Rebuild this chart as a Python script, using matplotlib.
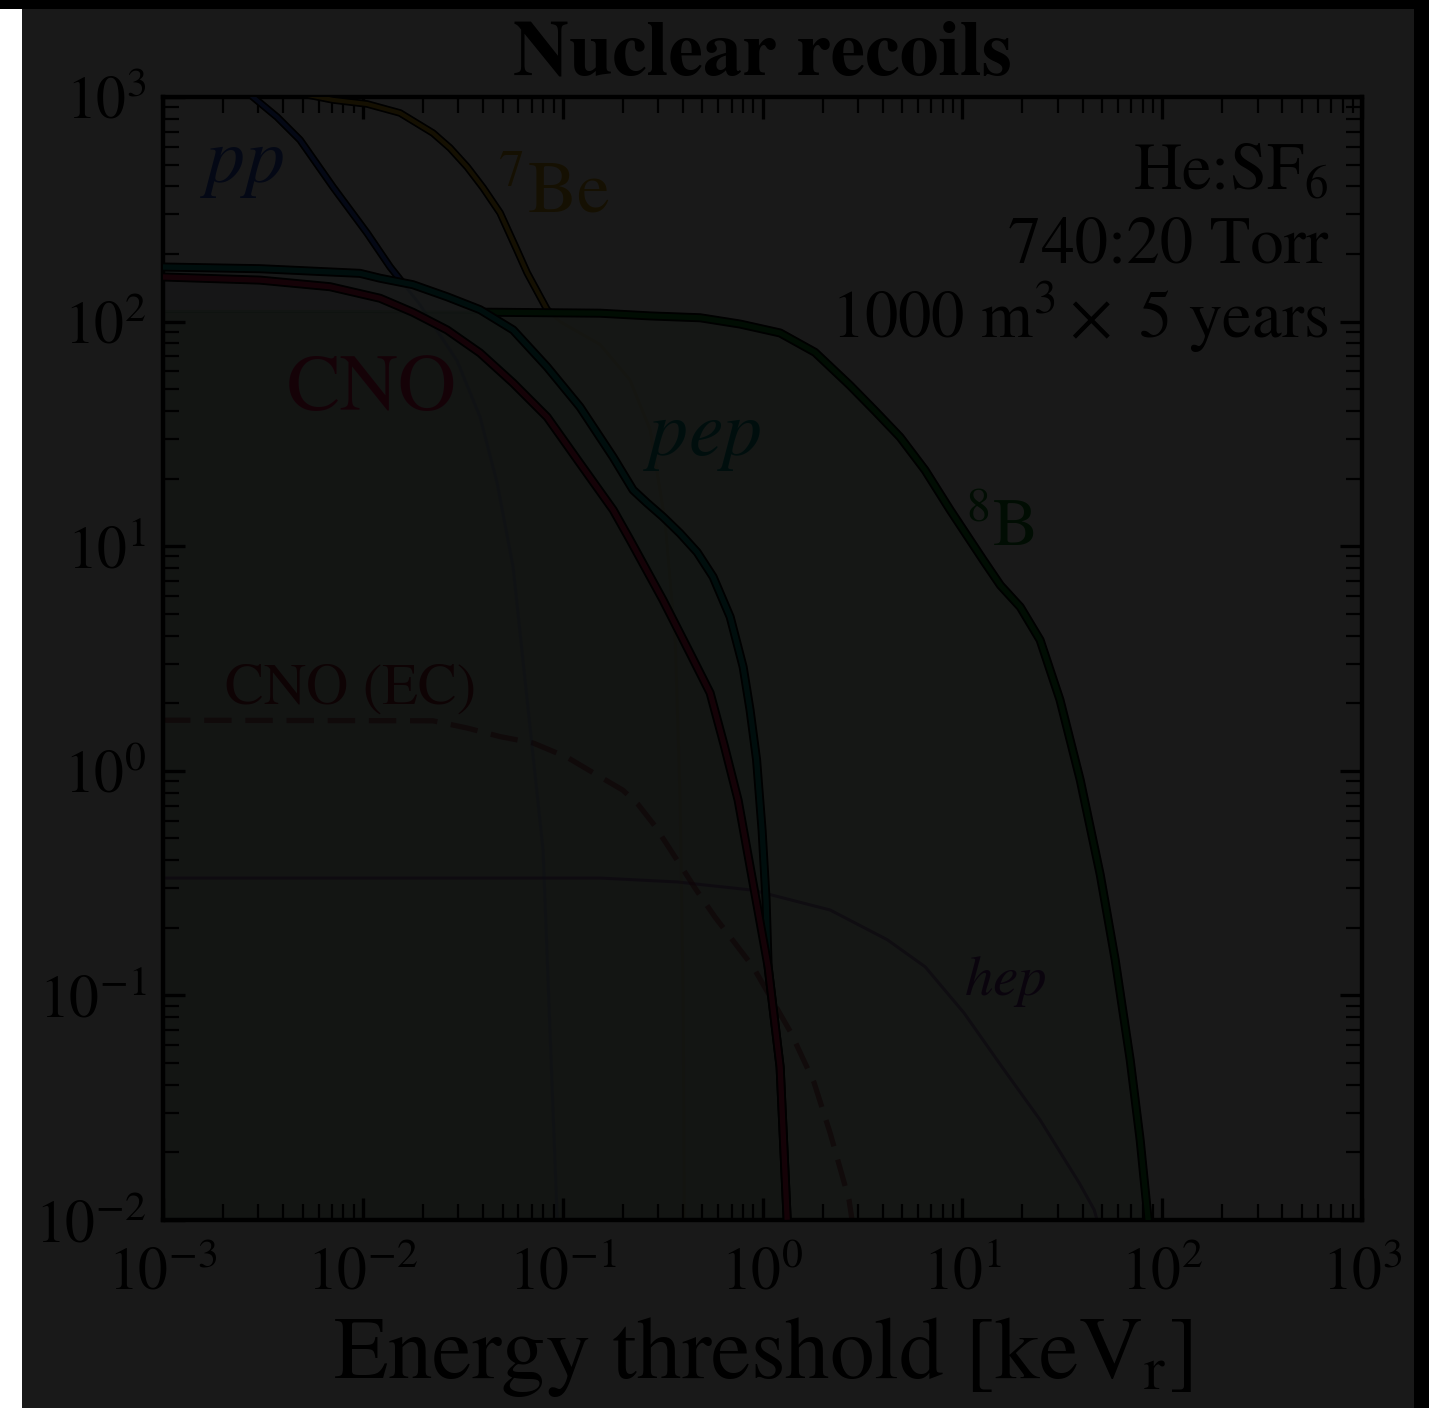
import numpy as np
import matplotlib
matplotlib.use('Agg')
import matplotlib.pyplot as plt
import matplotlib.patheffects as pe
from matplotlib.patches import Rectangle
from matplotlib.path import Path
from matplotlib.ticker import LogLocator, NullFormatter

plt.rcParams['font.family'] = 'STIXGeneral'
plt.rcParams['mathtext.fontset'] = 'stix'

# Recoil energy threshold [keVr] vs. number of events above that threshold
E_pp = np.array([0.001, 0.002, 0.00282, 0.00372, 0.00485, 0.0071, 0.0105, 0.0137, 0.0193,
                 0.0296, 0.0386, 0.047, 0.0565, 0.0664, 0.0798, 0.0938])
R_pp = np.array([2300, 1320, 1000, 815, 644, 397, 248, 175, 119,
                 67, 37.6, 19.1, 8.07, 2.07, 0.443, 0.0103])

E_Be7 = np.array([0.001, 0.003, 0.0071, 0.0105, 0.01535, 0.02244, 0.0273, 0.0333, 0.040,
                  0.0486, 0.0591, 0.0664, 0.0836, 0.097, 0.154, 0.217, 0.274, 0.325,
                  0.366, 0.387, 0.401, 0.406])
R_Be7 = np.array([1350, 1130, 970, 931, 849, 691, 593, 488, 394,
                  305, 208, 165, 113, 100, 79, 55, 33, 13,
                  3.8, 0.74, 0.096, 0.01])

E_B8 = np.array([0.001, 0.01, 0.0486, 0.154, 0.274, 0.488, 0.773, 1.225, 1.83, 2.74,
                 3.66, 4.88, 6.51, 8.69, 12.7, 15.5, 19.5, 24.5, 30.8, 38.9,
                 49.0, 58.2, 69.2, 77.6, 85.1])
R_B8 = np.array([111, 111, 110, 109, 106, 104, 97.5, 89, 73, 52,
                 40, 30.6, 21.8, 14.5, 8.7, 6.7, 5.36, 3.82, 2.07, 0.91,
                 0.344, 0.144, 0.0515, 0.0227, 0.01])

E_pep = np.array([0.001, 0.00306, 0.00968, 0.0122, 0.0178, 0.0264, 0.0386, 0.0565, 0.0836,
                  0.122, 0.179, 0.225, 0.264, 0.318, 0.387, 0.471, 0.566, 0.689, 0.80,
                  0.866, 0.934, 0.995, 1.042, 1.067, 1.225, 1.327])
R_pep = np.array([175, 172, 164, 156, 146, 129, 113, 91.8, 62.8,
                  41.7, 24.9, 17.8, 15.6, 13.5, 11.4, 9.4, 7.3, 4.84, 2.9,
                  1.87, 1.12, 0.545, 0.266, 0.134, 0.048, 0.0103])

E_CNO = np.array([0.001, 0.00306, 0.00685, 0.0122, 0.0178, 0.0264, 0.0386, 0.0565, 0.0836,
                  0.122, 0.179, 0.217, 0.318, 0.434, 0.547, 0.643, 0.755, 0.897, 1.067,
                  1.225, 1.327])
R_CNO = np.array([158, 153, 143, 127, 110, 91.8, 72.5, 53.3, 37.6,
                  23.4, 14.5, 10.7, 5.75, 3.34, 2.22, 1.30, 0.74, 0.316, 0.134,
                  0.048, 0.0103])

E_CNOEC = np.array([0.001, 0.0224, 0.0333, 0.0486, 0.0711, 0.105, 0.154, 0.2, 0.238, 0.29,
                    0.374, 0.46, 0.579, 0.897, 1.39, 1.81, 2.18, 2.71, 2.81])
R_CNOEC = np.array([1.68, 1.67, 1.55, 1.42, 1.33, 1.15, 0.94, 0.82, 0.71, 0.567,
                    0.40, 0.30, 0.223, 0.134, 0.068, 0.041, 0.0244, 0.0123, 0.0099])

E_hep = np.array([0.001, 0.154, 0.374, 0.897, 2.18, 4.21, 6.52, 10.2, 15.8,
                  24.5, 38.5, 45.7, 47.5])
R_hep = np.array([0.333, 0.333, 0.32, 0.294, 0.24, 0.177, 0.134, 0.0835, 0.048,
                  0.0279, 0.0146, 0.0111, 0.0098])

c_pp = '#2a55d4'
c_Be7 = '#d9a516'
c_B8 = '#0a8a1e'
c_pep = '#00948a'
c_CNO = '#d8174f'
c_CNOEC = '#8c1f2a'
c_hep = '#6a2c8a'


def outline(w):
    return [pe.Stroke(linewidth=w, foreground='k'), pe.Normal()]


def region_above(E, R):
    # area above a curve, plus everything right of where the curve stops
    verts = list(zip(E, R)) + [(E[-1], 1e-8), (1e8, 1e-8), (1e8, 1e8), (E[0], 1e8), (E[0], R[0])]
    return Path(verts, closed=True)


fig = plt.figure(figsize=(14.29, 14.08), dpi=100, facecolor='white')
ax = fig.add_axes([0.11407, 0.13352, 0.83905, 0.79759])
ax.set_xscale('log')
ax.set_yscale('log')

# shaded rates
ax.fill_between(E_B8, R_B8, 1e-3, color=c_B8, alpha=0.18, lw=0, zorder=1)
ax.fill_between(E_pep, R_pep, 1e-3, color=c_pep, alpha=0.1, lw=0, zorder=1)
ax.fill_between(E_CNO, R_CNO, 1e-3, color=c_CNO, alpha=0.08, lw=0, zorder=1)

# thin curves sitting underneath
ax.plot(E_hep, R_hep, color=c_hep, lw=2.2, alpha=0.55, zorder=2)
ax.plot(E_CNOEC, R_CNOEC, color=c_CNOEC, lw=3.8, alpha=0.6, dashes=(5.2, 2.6), zorder=2)
for E, R, c in [(E_pp, R_pp, c_pp), (E_Be7, R_Be7, c_Be7), (E_B8, R_B8, c_B8)]:
    ax.plot(E, R, color=c, lw=2.2, alpha=0.18, zorder=2)

# thick outlined curves, only where they stick out above the others
l_pp, = ax.plot(E_pp, R_pp, color=c_pp, lw=3, path_effects=outline(5.5), zorder=3)
l_pp.set_clip_path(region_above(E_pep, R_pep), ax.transData)
l_be, = ax.plot(E_Be7, R_Be7, color=c_Be7, lw=3, path_effects=outline(5.5), zorder=3)
l_be.set_clip_path(region_above(E_B8, R_B8), ax.transData)
l_b8, = ax.plot(E_B8, R_B8, color=c_B8, lw=3.8, path_effects=outline(6.5), zorder=4)
l_b8.set_clip_path(region_above(E_pep, R_pep), ax.transData)
ax.plot(E_pep, R_pep, color=c_pep, lw=3.8, path_effects=outline(6.5), zorder=5)
ax.plot(E_CNO, R_CNO, color=c_CNO, lw=3.8, path_effects=outline(6.5), zorder=6)

# source labels
ax.text(1.53e-3, 419, r'$pp$', color=c_pp, fontsize=56, zorder=7)
ax.text(0.047, 308, r'$^{7}$Be', color=c_Be7, fontsize=53, zorder=7)
ax.text(4.18e-3, 40.4, 'CNO', color=c_CNO, fontsize=58, zorder=7)
ax.text(0.252, 25.5, r'$pep$', color=c_pep, fontsize=56, zorder=7)
ax.text(10.3, 10.1, r'$^{8}$B', color=c_B8, fontsize=49, zorder=7)
ax.text(2.04e-3, 2.0, 'CNO (EC)', color=c_CNOEC, fontsize=42, zorder=7)
ax.text(10.2, 0.1005, r'$hep$', color=c_hep, fontsize=41, zorder=7)

# detector description
ax.text(0.9716, 0.9172, r'He:SF$_6$', transform=ax.transAxes, ha='right', va='baseline', fontsize=48)
ax.text(0.9716, 0.853, '740:20 Torr', transform=ax.transAxes, ha='right', va='baseline', fontsize=48)
ax.text(0.9716, 0.786, r'1000 m$^3\times$ 5 years', transform=ax.transAxes, ha='right', va='baseline', fontsize=48)

ax.set_xlim(1e-3, 1e3)
ax.set_ylim(1e-2, 1e3)
for a in (ax.xaxis, ax.yaxis):
    a.set_major_locator(LogLocator(base=10, numticks=20))
    a.set_minor_locator(LogLocator(base=10, subs=np.arange(2, 10), numticks=20))
    a.set_minor_formatter(NullFormatter())
ax.tick_params(which='both', direction='in', top=True, right=True)
ax.tick_params(which='major', length=16, width=2.4, labelsize=43)
ax.tick_params(which='minor', length=11.5, width=1.6)
ax.tick_params(axis='x', which='major', pad=19)
ax.tick_params(axis='y', which='major', pad=12)
for s in ax.spines.values():
    s.set_linewidth(3.2)

ax.set_title('Nuclear recoils', fontsize=56, fontweight='bold', pad=16)
ax.set_xlabel(r'Energy threshold [keV$_{\rm r}$]', fontsize=64, labelpad=10)

# dimmed page around the figure
fig.add_artist(Rectangle((0.0154, 0), 0.9741, 0.99361, transform=fig.transFigure,
                         facecolor='black', alpha=0.9, lw=0, zorder=50))
fig.add_artist(Rectangle((0, 0.99361), 1, 0.00639, transform=fig.transFigure,
                         facecolor='black', lw=0, zorder=51))
fig.add_artist(Rectangle((0.9895, 0), 0.0105, 1, transform=fig.transFigure,
                         facecolor='black', lw=0, zorder=51))

fig.savefig('out.png', dpi=100, facecolor='white')
